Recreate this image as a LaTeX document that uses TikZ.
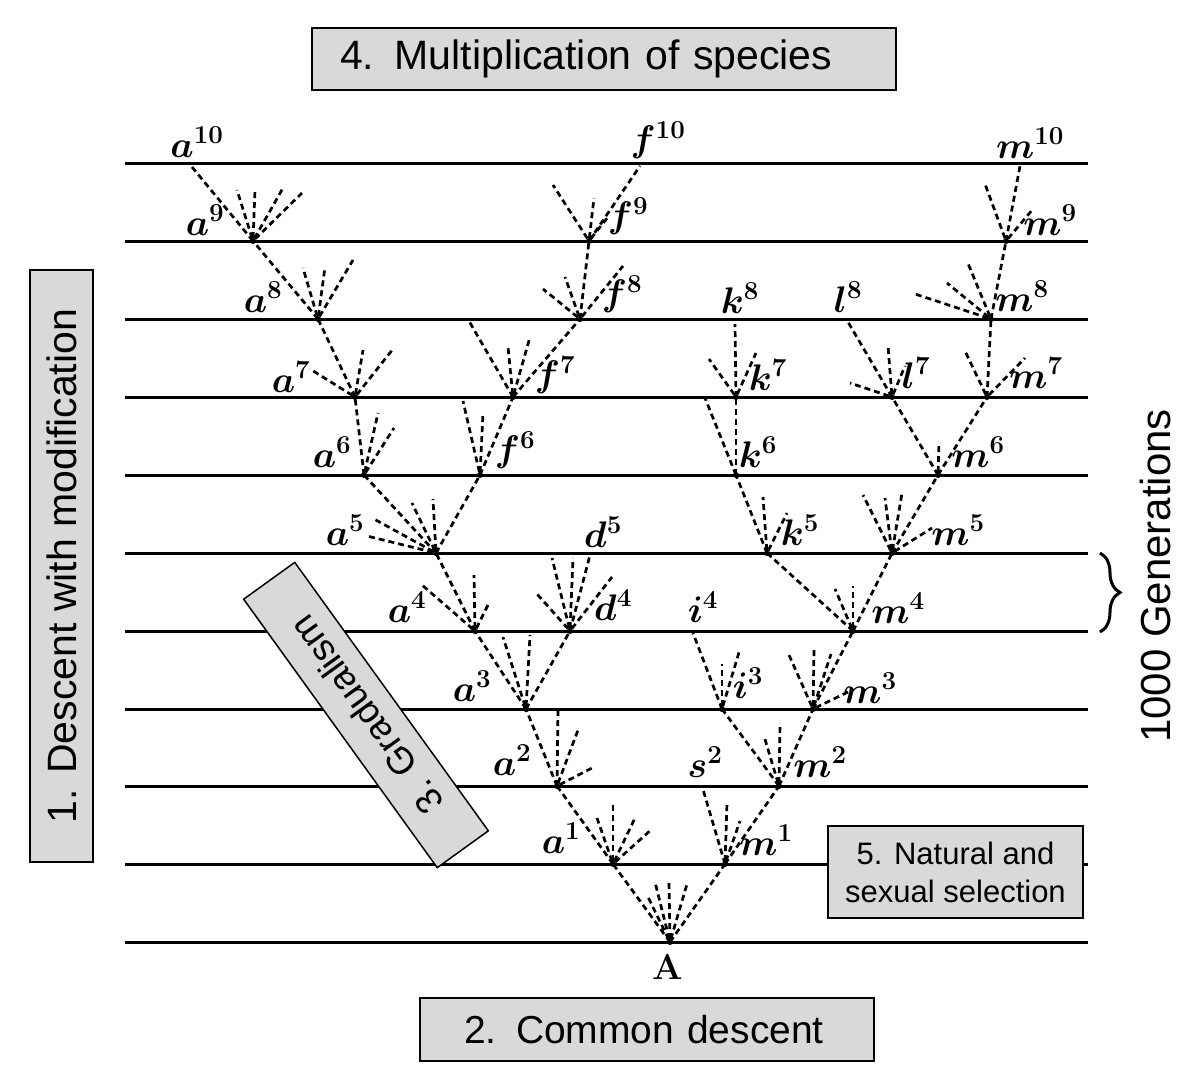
\RequirePackage{fix-cm}
\documentclass[tikz,border=0pt]{standalone}
\usepackage{fontspec}
\setsansfont{Liberation Sans}
\usetikzlibrary{decorations.pathreplacing}
\definecolor{boxgray}{RGB}{217,217,217}

\begin{document}
\begin{tikzpicture}[x=1pt,y=-1pt,
    gen/.style={line width=3pt},
    branch/.style={line width=2.7pt,dash pattern=on 6pt off 4pt},
    twig/.style={branch,shorten <=3pt},
    lab/.style={font=\boldmath\fontsize{37}{44}\selectfont},
    box/.style={draw,line width=1.5pt,fill=boxgray,inner sep=0pt,align=center,
      font=\sffamily\fontsize{41}{48}\selectfont}]
\useasboundingbox (0,0) rectangle (1200,1090);
\foreach \y in {163,241,319,397,475,553,631,709,786,864,942}
  \draw[gen] (125,\y) -- (1088,\y);
\coordinate (A) at (670,942);
\coordinate (a1) at (613,864);
\coordinate (m1) at (725,864);
\coordinate (a2) at (557,786);
\coordinate (s2) at (702,786);
\coordinate (m2) at (779,786);
\coordinate (a2t) at (558,709);
\coordinate (a3) at (526,709);
\coordinate (i3) at (722,709);
\coordinate (m3) at (813,709);
\coordinate (a4) at (475,631);
\coordinate (d4) at (570,631);
\coordinate (i4) at (693,633);
\coordinate (m4) at (853,631);
\coordinate (a5) at (436,553);
\coordinate (d5) at (590,555);
\coordinate (k5) at (767,553);
\coordinate (m5) at (892,553);
\coordinate (a6) at (364,475);
\coordinate (f6) at (480,475);
\coordinate (k6) at (736,475);
\coordinate (m6) at (938,475);
\coordinate (k6t) at (705,398);
\coordinate (a7) at (355,397);
\coordinate (f7) at (513,397);
\coordinate (k7) at (736,397);
\coordinate (l7) at (892,397);
\coordinate (m7) at (987,397);
\coordinate (f7t) at (469,321);
\coordinate (a8) at (318,319);
\coordinate (f8) at (580,319);
\coordinate (k8) at (735,324);
\coordinate (l8) at (848,322);
\coordinate (m8) at (991,319);
\coordinate (a9) at (253,241);
\coordinate (f9) at (589,241);
\coordinate (m9) at (1006,241);
\coordinate (a10) at (192,167);
\coordinate (f10) at (640,166);
\coordinate (m10) at (1020,166);
\foreach \p/\c in {A/a1,A/m1,a1/a2,m1/s2,m1/m2,a2/a2t,a2/a3,m2/i3,m2/m3,
    a3/a4,a3/d4,i3/i4,m3/m4,a4/a5,d4/d5,m4/k5,m4/m5,a5/a6,a5/f6,k5/k6,m5/m6,
    a6/a7,f6/f7,k6/k6t,k6/k7,m6/l7,m6/m7,a7/a8,f7/f7t,f7/f8,k7/k8,l7/l8,m7/m8,
    a8/a9,f8/f9,m8/m9,a9/a10,f9/f10,m9/m10}
  \draw[branch] (\p) -- (\c);
\foreach \n/\l in {A/{-23/-47,-15/-60,-1/-61,17/-58},
    a1/{-16/-46,0/-61,22/-46,39/-35}, m1/{2/-61,15/-43},
    a2/{21/-56,35/-18}, m2/{-15/-50,1/-63},
    a3/{-23/-72,4/-74}, i3/{0/-45,18/-60}, m3/{-24/-54,1/-59,18/-55,35/-17},
    a4/{-53/-46,-1/-56,14/-28}, d4/{-33/-37,-18/-73,3/-73,42/-54}, m4/{-18/-42,0/-45},
    a5/{-62/-34,-69/-17,-24/-50,-3/-54}, k5/{-4/-56,20/-40}, m5/{-29/-58,-7/-55,10/-60,40/-25},
    a6/{14/-62,30/-47}, f6/{-17/-74,3/-62}, m6/{1/-33},
    a7/{-45/-28,8/-47,38/-48}, f7/{-5/-50,17/-60}, k7/{-27/-38,20/-44},
    l7/{-42/-14,-4/-51,13/-31}, m7/{-22/-46,38/-39},
    a8/{-15/-51,7/-52,35/-59}, f8/{-37/-30,-15/-42,43/-53}, m8/{-76/-25,-44/-36,-24/-58},
    a9/{-16/-51,2/-51,30/-53,49/-48}, f9/{-36/-56,5/-43,19/-24}, m9/{-21/-57,27/-32}}
  \foreach \dx/\dy in \l
    \draw[twig] (\n) -- ++(\dx,\dy);
\foreach \n in {A,a1,m1,a2,m2,a3,i3,m3,a4,d4,m4,a5,k5,m5,a6,f6,k6,m6,
    a7,f7,k7,l7,m7,a8,f8,m8,a9,f9,m9}
  \fill (\n) circle (3);
\foreach \n/\t/\x/\y in {a10/a^{10}/197/142, f10/f^{10}/658/140, m10/m^{10}/1030/143,
    a9/a^9/205/220, f9/f^9/628/216, m9/m^9/1050/220,
    a8/a^8/263/297, f8/f^8/622/294, k8/k^8/740/298, l8/l^8/848/297, m8/m^8/1022/296,
    a7/a^7/291/377, f7/f^7/555/375, k7/k^7/768/375, l7/l^7/916/373, m7/m^7/1036/373,
    a6/a^6/332/452, f6/f^6/515/450, k6/k^6/758/452, m6/m^6/978/452,
    a5/a^5/345/530, d5/d^5/603/532, k5/k^5/800/530, m5/m^5/958/530,
    a4/a^4/407/607, d4/d^4/613/605, i4/i^4/703/607, m4/m^4/898/608,
    a3/a^3/472/686, i3/i^3/748/683, m3/m^3/870/688,
    a2/a^2/512/760, s2/s^2/705/762, m2/m^2/820/762,
    a1/a^1/561/838, m1/m^1/766/840}
  \node[lab] (t\n) at (\x,\y) {$\t$};
\node[lab,font=\bfseries\fontsize{36}{42}\selectfont] (tA) at (668,967) {A};
\node[box,minimum width=584,minimum height=62,text width=560,align=left] (mult) at (604,59) {\hspace*{16pt}4. Multiplication of species};
\node[box,rotate=90,minimum width=592,minimum height=63] (desc) at (61.5,566) {1. Descent with modification};
\node[box,minimum width=454,minimum height=63,text width=450,align=left,font=\sffamily\fontsize{39}{46}\selectfont] (comm) at (647,1029.5) {\hspace*{42pt}2. Common descent};
\node[box,rotate=125.8,minimum width=331,minimum height=63,font=\sffamily\fontsize{37}{44}\selectfont] (grad) at (366,715) {3. Gradualism};
\node[box,minimum width=255,minimum height=92,font=\sffamily\fontsize{31}{38}\selectfont] (sel) at (955.5,872) {5. Natural and\\sexual selection};
\node[font=\sffamily\fontsize{42}{50}\selectfont,rotate=90] (gens) at (1155,576) {1000 Generations};
\draw[line width=3pt,decorate,decoration={brace,amplitude=20pt}] (1100,553) -- (1100,632);
\end{tikzpicture}
\end{document}
